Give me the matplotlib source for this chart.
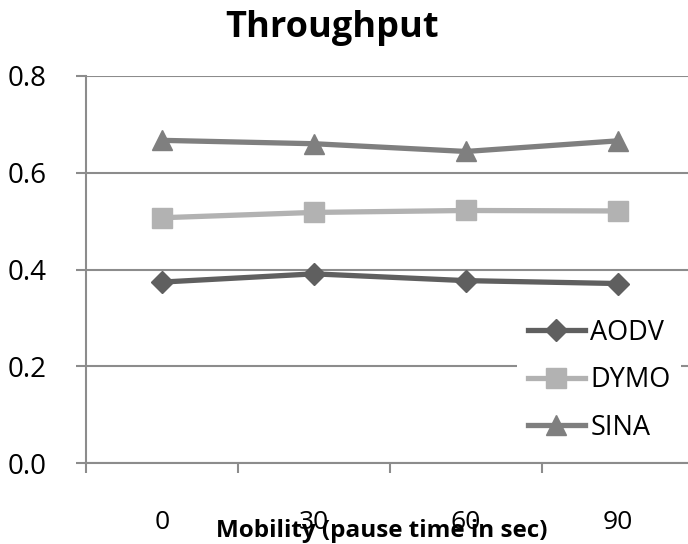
import matplotlib
matplotlib.use("Agg")
import matplotlib.pyplot as plt

categories = ["0", "30", "60", "90"]
aodv = [0.374, 0.391, 0.377, 0.371]
dymo = [0.507, 0.518, 0.522, 0.521]
sina = [0.667, 0.660, 0.644, 0.666]
series_names = ["AODV", "DYMO", "SINA"]
y_ticks = [0.0, 0.2, 0.4, 0.6, 0.8]

plt.rcParams['font.family'] = ['Open Sans', 'DejaVu Sans']

W, H = 688, 544
fig = plt.figure(figsize=(W / 100, H / 100), dpi=100)
ax = fig.add_axes([86 / W, (H - 463) / H, (694 - 86) / W, (463 - 76) / H])

grid_c = '#8c8c8c'
x = list(range(len(categories)))
ax.plot(x, aodv, color='#5f5f5f', lw=3.8, marker='D', ms=11, label=series_names[0])
ax.plot(x, dymo, color='#b2b2b2', lw=3.8, marker='s', ms=14, label=series_names[1])
ax.plot(x, sina, color='#7f7f7f', lw=3.8, marker='^', ms=15, label=series_names[2])

ax.set_xlim(-0.5, len(categories) - 0.5)
ax.set_ylim(0, 0.8)
ax.set_yticks(y_ticks)
ax.set_yticklabels([f"{v:.1f}" for v in y_ticks])
ax.yaxis.grid(True, color=grid_c, lw=1.5)
ax.set_axisbelow(True)

for s in ['top', 'right']:
    ax.spines[s].set_visible(False)
for s in ['left', 'bottom']:
    ax.spines[s].set_color(grid_c)
    ax.spines[s].set_linewidth(1.5)

ax.set_xticks([i - 0.5 for i in x])
ax.set_xticklabels([])
ax.tick_params(axis='x', which='major', length=7, width=1.5, color=grid_c, direction='out')
ax.set_xticks(x, minor=True)
ax.set_xticklabels(categories, minor=True)
ax.tick_params(axis='x', which='minor', length=0, pad=34, labelsize=19)
ax.tick_params(axis='y', length=7, width=1.5, color=grid_c, pad=21, labelsize=20)

ax.set_xlabel("Mobility (pause time in sec)", fontsize=17.5, fontweight='bold')
ax.xaxis.set_label_coords((382 - 86) / 608, -(531 - 463) / (463 - 76))
ax.xaxis.label.set_va('center')

fig.text(332 / W, 1 - 37 / H, "Throughput", fontsize=26, fontweight='bold',
         ha='center', va='baseline')

leg = ax.legend(loc='upper left', bbox_to_anchor=(517 / W, 1 - 308 / H),
                bbox_transform=fig.transFigure, borderaxespad=0, borderpad=0.4,
                fontsize=19.5, handlelength=2.1, handletextpad=0.2, labelspacing=0.72,
                frameon=True, fancybox=False, framealpha=1)
leg.get_frame().set_edgecolor('none')
leg.get_frame().set_facecolor('white')

fig.savefig("out.png", dpi=100)
